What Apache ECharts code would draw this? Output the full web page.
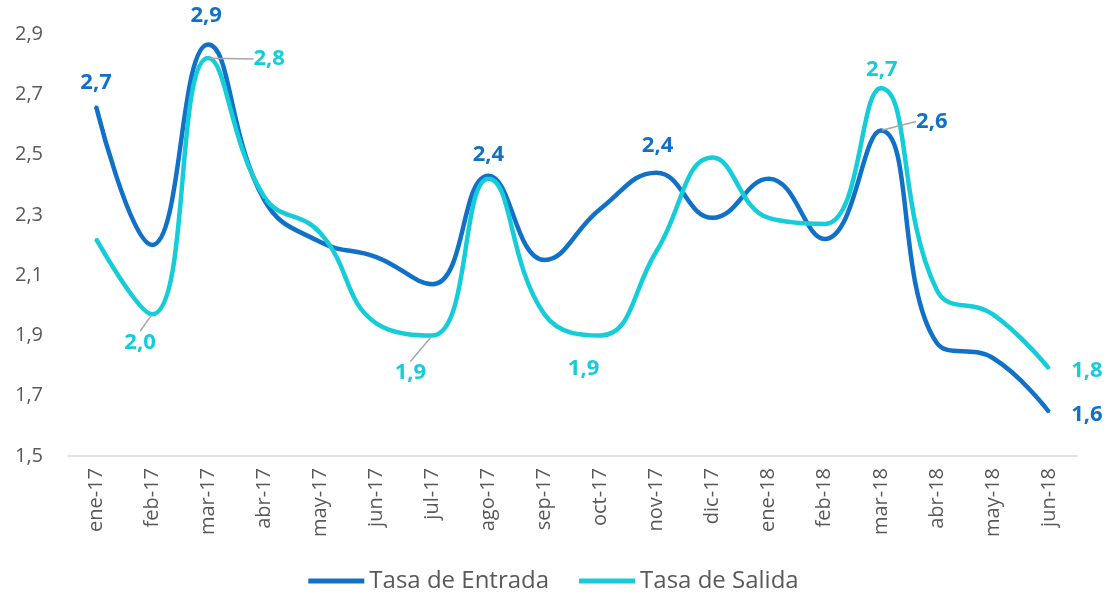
<!DOCTYPE html>
<html>
<head>
<meta charset="utf-8">
<script src="https://cdn.jsdelivr.net/npm/echarts@6/dist/echarts.min.js"></script>
<style>
  html, body { margin: 0; padding: 0; background: #fff; }
  #chart { width: 1107px; height: 598px; }
</style>
</head>
<body>
<div id="chart"></div>
<script>
// datos
var categories = ['ene-17', 'feb-17', 'mar-17', 'abr-17', 'may-17', 'jun-17', 'jul-17', 'ago-17', 'sep-17',
  'oct-17', 'nov-17', 'dic-17', 'ene-18', 'feb-18', 'mar-18', 'abr-18', 'may-18', 'jun-18'];
var tasaEntrada = [2.66, 2.20, 2.865, 2.35, 2.21, 2.16, 2.07, 2.43, 2.15, 2.32, 2.44, 2.29, 2.42, 2.22, 2.58, 1.875, 1.825, 1.646];
var tasaSalida = [2.22, 1.97, 2.82, 2.36, 2.24, 1.94, 1.90, 2.42, 1.97, 1.90, 2.18, 2.49, 2.29, 2.27, 2.72, 2.05, 1.97, 1.79];
var yTicks = [1.5, 1.7, 1.9, 2.1, 2.3, 2.5, 2.7, 2.9];

var colorEntrada = '#1170c8';
var colorSalida = '#14cdd9';

// etiquetas visibles: indice -> [dx, dy, linea guia]
var labelsEntrada = { 0: [0, -24], 2: [-2, -29], 7: [0, -21], 10: [1, -27], 14: [51, -9, true], 17: [38, 3] };
var labelsSalida = { 1: [-12, 28, true], 2: [61, 1, true], 6: [-22, 37, true], 9: [-17, 33], 14: [1, -19], 17: [38, 2] };

function fmt(v) {
  return v.toFixed(1).replace('.', ',');
}

function buildData(values, labels) {
  return values.map(function (v, i) {
    var item = { value: v };
    if (labels[i]) {
      item.label = { show: true };
      if (labels[i][2]) item.labelLine = { show: true };
    }
    return item;
  });
}

function makeSeries(name, values, labels, color) {
  return {
    name: name,
    type: 'line',
    smooth: 0.45,
    symbol: 'circle',
    symbolSize: 2,
    showSymbol: true,
    itemStyle: { color: color },
    lineStyle: { width: 4.5, color: color },
    label: {
      show: false,
      position: 'inside',
      color: color,
      fontSize: 22,
      fontWeight: 'bold',
      fontFamily: 'Open Sans',
      formatter: function (p) { return fmt(p.value); }
    },
    labelLine: { show: false, lineStyle: { color: '#a6a6a6', width: 1.5 } },
    labelLayout: function (p) {
      var l = labels[p.dataIndex];
      if (!l) return {};
      return { dx: l[0], dy: l[1] };
    },
    data: buildData(values, labels)
  };
}

var myChart = echarts.init(document.getElementById('chart'));

var option = {
  backgroundColor: '#fff',
  animation: false,
  textStyle: { fontFamily: 'Open Sans' },
  grid: { left: 68, right: 30, top: 34, bottom: 142 },
  legend: {
    bottom: 0,
    left: 'center',
    icon: 'rect',
    itemWidth: 56,
    itemHeight: 5,
    itemGap: 30,
    textStyle: { color: '#595959', fontSize: 24, fontFamily: 'Open Sans' },
    data: ['Tasa de Entrada', 'Tasa de Salida']
  },
  xAxis: {
    type: 'category',
    data: categories,
    boundaryGap: true,
    axisLine: { lineStyle: { color: '#d9d9d9', width: 1.5 } },
    axisTick: { show: false },
    axisLabel: { rotate: 90, color: '#595959', fontSize: 20, margin: 12, interval: 0 }
  },
  yAxis: {
    type: 'value',
    min: 1.5,
    max: 2.9,
    interval: 0.1,
    splitLine: { show: false },
    axisLine: { show: false },
    axisTick: { show: false },
    axisLabel: {
      color: '#595959',
      fontSize: 20,
      margin: 25,
      formatter: function (v) {
        for (var i = 0; i < yTicks.length; i++) {
          if (Math.abs(yTicks[i] - v) < 1e-6) return fmt(v);
        }
        return '';
      }
    }
  },
  series: [
    makeSeries('Tasa de Entrada', tasaEntrada, labelsEntrada, colorEntrada),
    makeSeries('Tasa de Salida', tasaSalida, labelsSalida, colorSalida)
  ]
};

myChart.setOption(option);
</script>
</body>
</html>
